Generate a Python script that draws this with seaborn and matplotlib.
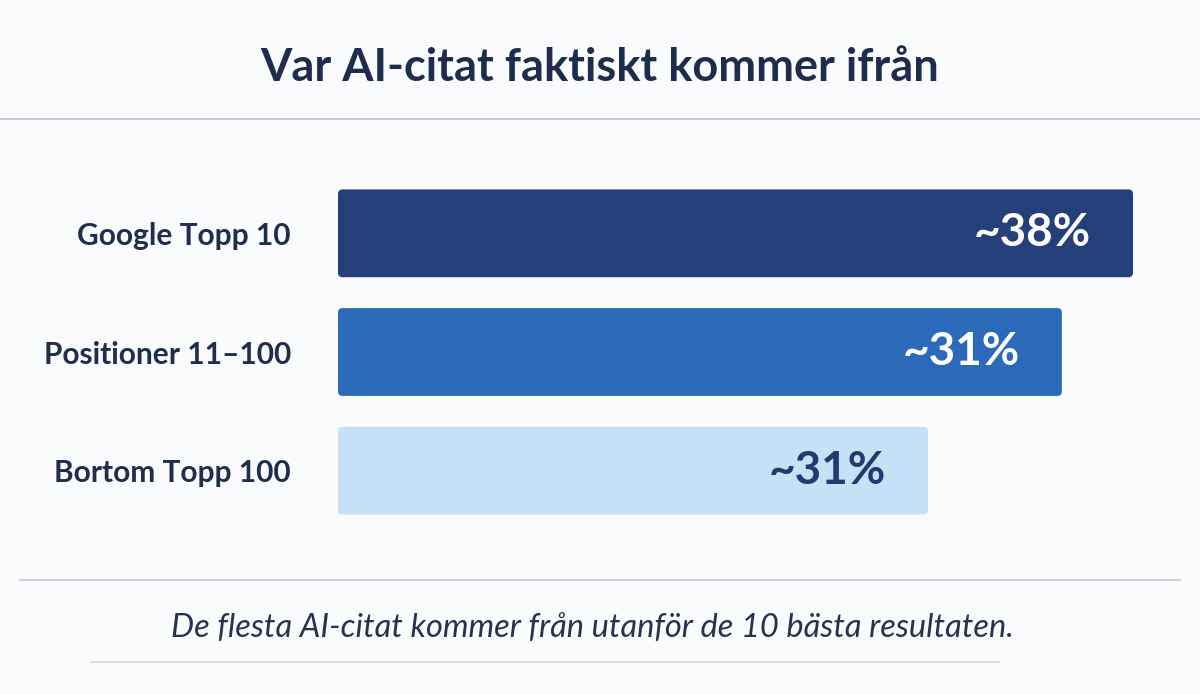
import matplotlib
matplotlib.use("Agg")
import matplotlib.pyplot as plt
from matplotlib.patches import FancyBboxPatch
from matplotlib.lines import Line2D
import seaborn as sns
import pandas as pd

# data
categories = ["Google Topp 10", "Positioner 11–100", "Bortom Topp 100"]
bar_values = [38, 34.6, 28.2]
value_labels = ["~38%", "~31%", "~31%"]
bar_colors = ["#243f7a", "#2b69b9", "#c4e1f5"]
label_colors = ["white", "white", "#1f3b70"]

title = "Var AI-citat faktiskt kommer ifrån"
caption = "De flesta AI-citat kommer från utanför de 10 bästa resultaten."

sns.set_theme(style="white")
plt.rcParams["font.family"] = ["Lato", "DejaVu Sans"]

bg = "#fafbfd"
fig = plt.figure(figsize=(12, 6.94), dpi=100, facecolor=bg)
ax = fig.add_axes([338 / 1200, 1 - 530 / 694, 800 / 1200, 356 / 694])
ax.set_facecolor(bg)

df = pd.DataFrame({"cat": categories, "val": bar_values})
sns.barplot(data=df, x="val", y="cat", hue="cat", palette=bar_colors,
            width=0.74, legend=False, ax=ax, saturation=1)

xmax = 38 * 800 / 795
ax.set_xlim(0, xmax)
ax.set_ylim(2.5, -0.5)

# swap plain bars for slightly rounded ones
aspect = (3 / 356) / (xmax / 800)
for p in list(ax.patches):
    x0, y0, w, h = p.get_x(), p.get_y(), p.get_width(), p.get_height()
    fc = p.get_facecolor()
    p.remove()
    ax.add_patch(FancyBboxPatch((x0, y0), w, h,
                                boxstyle="round,pad=0,rounding_size=0.22",
                                mutation_aspect=aspect, facecolor=fc,
                                edgecolor="none"))

for i, (v, lab) in enumerate(zip(bar_values, value_labels)):
    ax.text(v - 2.0, i, lab, ha="right", va="center", fontsize=33,
            fontweight="bold", color=label_colors[i])

ax.set_xlabel("")
ax.set_ylabel("")
ax.set_xticks([])
sns.despine(ax=ax, left=True, bottom=True)
ax.tick_params(axis="y", length=0, pad=34)
for t in ax.get_yticklabels():
    t.set_fontsize(21.5)
    t.set_fontweight("bold")
    t.set_color("#1f2d4f")

fig.text(0.5, 1 - 68 / 694, title, ha="center", va="center", fontsize=32.5,
         fontweight="bold", color="#1e2c4e")
fig.text(592 / 1200, 1 - 628 / 694, caption, ha="center", va="center",
         fontsize=23.5, fontstyle="italic", color="#283150")

fig.add_artist(Line2D([0, 1], [1 - 119 / 694] * 2, color="#c9ccd3", lw=1.5))
fig.add_artist(Line2D([20 / 1200, 1180 / 1200], [1 - 580 / 694] * 2,
                      color="#c9ccd3", lw=1.3))
fig.add_artist(Line2D([90 / 1200, 1000 / 1200], [1 - 662 / 694] * 2,
                      color="#d3d6dc", lw=1.2))

fig.savefig("out.png", dpi=100, facecolor=bg)
